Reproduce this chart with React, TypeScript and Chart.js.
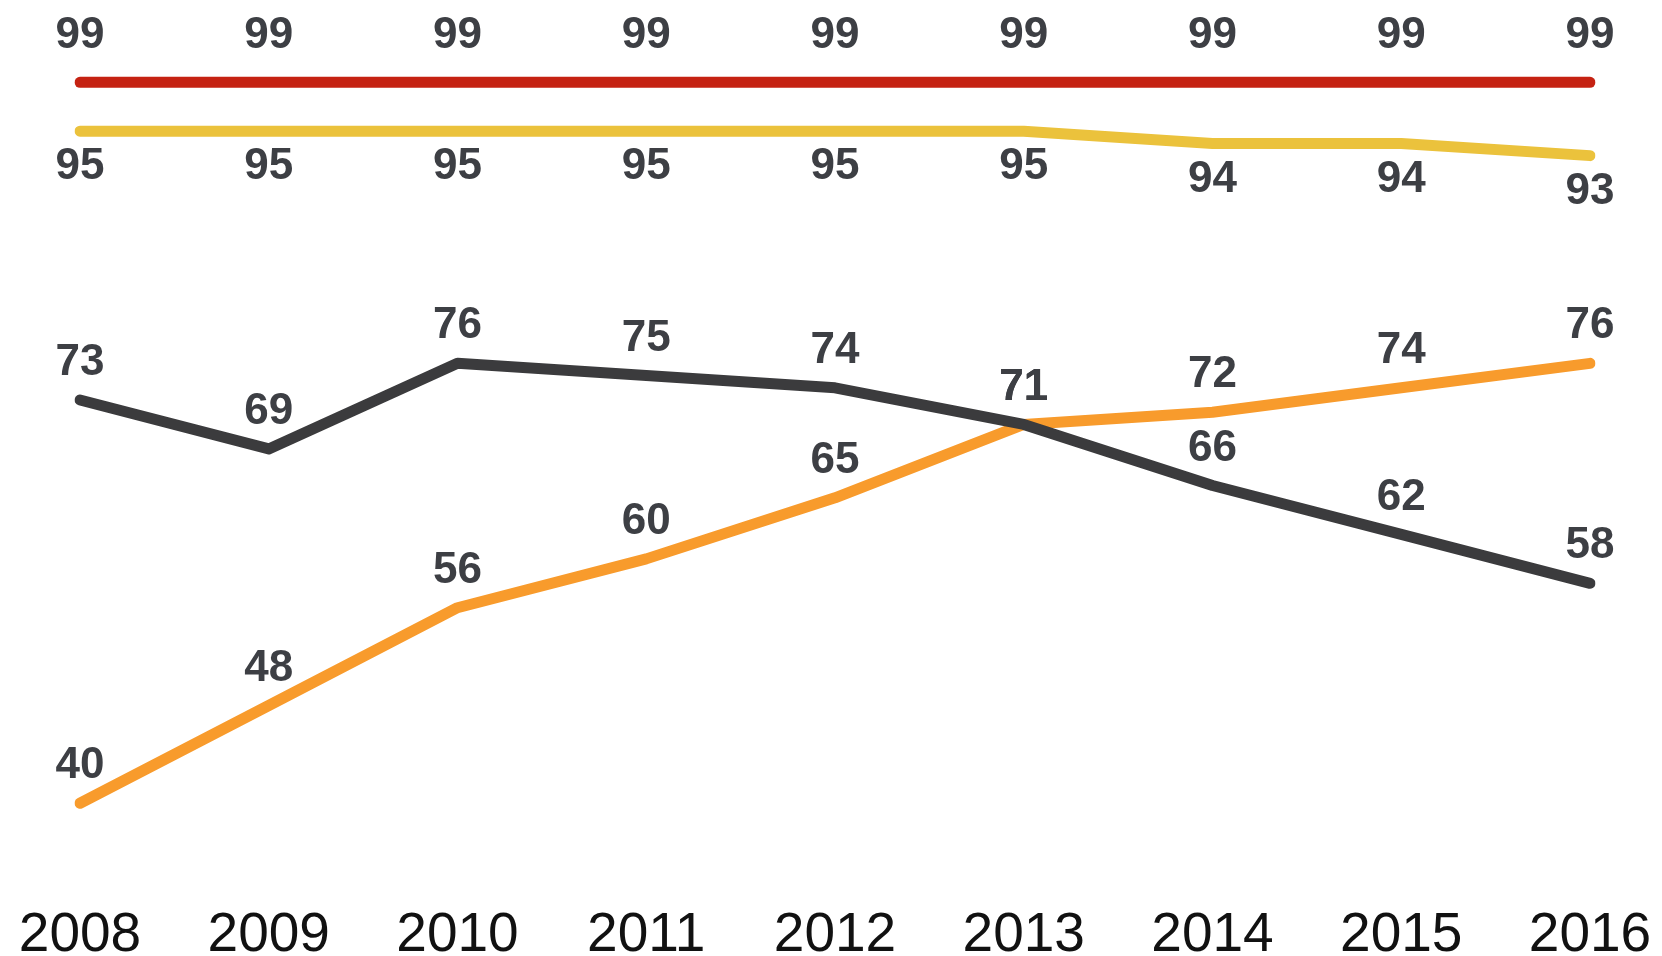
import React, { useEffect, useRef } from "react";
import { Chart, registerables } from "chart.js";

Chart.register(...registerables);

const years = ["2008", "2009", "2010", "2011", "2012", "2013", "2014", "2015", "2016"];
const redSeries = [99, 99, 99, 99, 99, 99, 99, 99, 99];
const yellowSeries = [95, 95, 95, 95, 95, 95, 94, 94, 93];
const darkSeries = [73, 69, 76, 75, 74, 71, 66, 62, 58];
const orangeSeries = [40, 48, 56, 60, 65, 71, 72, 74, 76];

const labelPlugin = {
  id: "pointLabels",
  afterDatasetsDraw(chart: any) {
    const ctx = chart.ctx;
    ctx.save();
    ctx.font = "bold 44px 'Liberation Sans', Arial, sans-serif";
    ctx.fillStyle = "#3d3f44";
    ctx.textAlign = "center";
    ctx.textBaseline = "middle";
    chart.data.datasets.forEach((ds: any, i: number) => {
      const meta = chart.getDatasetMeta(i);
      const off = ds.labelOffset as number;
      meta.data.forEach((pt: any, j: number) => {
        ctx.fillText(String(ds.data[j]), pt.x, pt.y + off);
      });
    });
    ctx.restore();
  },
};

export default function App() {
  const ref = useRef<HTMLCanvasElement | null>(null);
  useEffect(() => {
    if (!ref.current) return;
    const chart = new Chart(ref.current, {
      type: "line",
      data: {
        labels: years,
        datasets: [
          { label: "red", data: redSeries, borderColor: "#c52212", labelOffset: -46 } as any,
          { label: "yellow", data: yellowSeries, borderColor: "#ebc23c", labelOffset: 36 } as any,
          { label: "dark", data: darkSeries, borderColor: "#3b3b3d", labelOffset: -37 } as any,
          { label: "orange", data: orangeSeries, borderColor: "#f89b2c", labelOffset: -37 } as any,
        ],
      },
      options: {
        animation: false,
        responsive: true,
        maintainAspectRatio: false,
        layout: { padding: { left: 80, right: 72, top: 9, bottom: 0 } },
        elements: {
          line: { borderWidth: 11, tension: 0, borderCapStyle: "round", borderJoinStyle: "round", fill: false },
          point: { radius: 0, hoverRadius: 0 },
        },
        plugins: { legend: { display: false }, tooltip: { enabled: false } },
        scales: {
          y: { display: false, min: 32, max: 105 },
          x: {
            grid: { display: false, drawTicks: false },
            border: { display: false },
            afterFit: (scale: any) => {
              scale.height = 55;
            },
            ticks: {
              color: "#111111",
              padding: 7,
              font: { size: 55, lineHeight: 1.0, family: "'Liberation Sans', Arial, sans-serif" },
            },
          },
        },
      },
      plugins: [labelPlugin],
    });
    return () => chart.destroy();
  }, []);
  return (
    <div style={{ position: "fixed", left: 0, top: 0, width: 1662, height: 956, background: "#ffffff" }}>
      <canvas ref={ref} />
    </div>
  );
}
